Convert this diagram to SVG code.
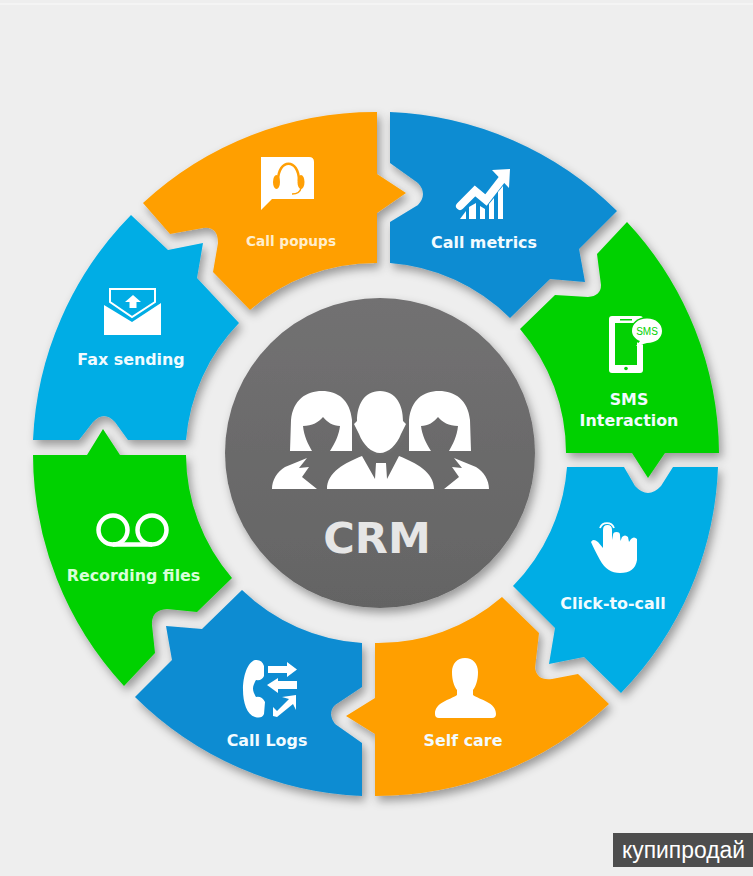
<svg xmlns="http://www.w3.org/2000/svg" width="753" height="876" viewBox="0 0 753 876">
<style>
.piece{filter:url(#sh)}
.orange{fill:#ff9f05}.blue{fill:#0a8cd2}.green{fill:#04d104}.sky{fill:#06ade5}
.w{fill:#fff}
.lab{font-family:"DejaVu Sans",Verdana,sans-serif;font-weight:700;font-size:15.900px;text-anchor:middle;fill:#f2fbff}
</style>
<defs>
<filter id="sh" x="-20%" y="-20%" width="140%" height="140%"><feDropShadow dx="3" dy="5" stdDeviation="5" flood-color="#000" flood-opacity=".36"/></filter>
<linearGradient id="hub" x1="0" y1="0" x2="0" y2="1"><stop offset="0" stop-color="#727172"/><stop offset="1" stop-color="#646464"/></linearGradient>
</defs>
<rect width="753" height="876" fill="#eeeeee"/>
<rect y="3" width="753" height="2" fill="#f4f4f4"/>
<g id="call-popups">
<path class="piece orange" d="M377,112 L377,174 L406,193 L377,213 L377,263 A190,190 0 0 0 250,310 L213,272 L218,243 Q218,226 203,228 L170,234 L143,203 A342,342 0 0 1 377,112Z"/>
<path class="w" d="M261,157 H309 Q314,157 314,162 V199 H272 L261,210Z"/>
<path d="M278,181 C278,158 299,158 299,181" fill="none" stroke="#ff9f05" stroke-width="2.500"/>
<ellipse cx="276.500" cy="182" rx="3.500" ry="7" class="orange"/><ellipse cx="301" cy="182" rx="3.500" ry="7" class="orange"/>
<path d="M301,188 Q300,194 292,194" fill="none" stroke="#ff9f05" stroke-width="1.500"/>
<text class="lab" x="291" y="246" style="font-size:13.700px;fill:#ffeecd">Call popups</text>
</g>
<g id="call-metrics">
<path class="piece blue" d="M390,112 A342,342 0 0 1 617,211 L579,249 L585,282 L550,279 L510,318 A190,190 0 0 0 390,263 L390,222 L418,205 Q428,194 418,183 L390,163Z"/>
<path d="M460,206 L475,191 L486,200 L503,178" fill="none" stroke="#fff" stroke-width="8" stroke-linecap="round"/>
<path class="w" d="M492,170 L510,169 L509,188Z M460,219 L466,211 V219Z M469,219 V207 L476,203 V219Z M480,219 V206 L485,209 V219Z M489,219 V204 L494,198 V219Z M498,219 V192 L503,186 V219Z"/>
<text class="lab" x="484" y="248">Call metrics</text>
</g>
<g id="sms-interaction">
<path class="piece green" d="M627,222 A342,342 0 0 1 719,453 L665,453 L648,478 L632,453 L566,453 A190,190 0 0 0 520,329 L555,295 L588,297 Q601,296 601,285 L597,254Z"/>
<rect class="w" x="609" y="316" width="34" height="57" rx="3"/>
<rect class="green" x="615" y="323" width="22" height="42"/>
<rect class="green" x="620" y="319" width="12" height="1.500"/>
<circle class="green" cx="626" cy="368.500" r="1.800"/>
<ellipse cx="647" cy="331" rx="16.500" ry="14" class="green"/>
<path class="w" d="M647,318.500 C656,318.500 662,324 662,331 C662,338 656,343 647,343 L636,346 L640,341 C635,339 632,335 632,331 C632,324 638,318.500 647,318.500Z"/>
<text x="647" y="335" text-anchor="middle" style="font-family:'Liberation Sans',sans-serif;font-size:10px;fill:#04d104">SMS</text>
<text class="lab" x="629" y="405">SMS</text>
<text class="lab" x="629" y="426">Interaction</text>
</g>
<g id="click-to-call">
<path class="piece sky" d="M718,467 A342,342 0 0 1 621,693 L584,657 L549,664 L555,628 L513,586 A190,190 0 0 0 567,467 L624,467 L635,486 Q648,500 661,486 L673,467Z"/>
<path class="w" d="M603,530 Q603,525 607.500,525 Q612,525 612,530 L612,540 L613,535 Q613,532 616.500,532 Q620,532 620,535 L620.500,541 L622,537 Q625,534 628,537 L629,542 L631,539 Q634,536 637,539 L637,560 Q635,573 620,573 Q607,573 600,560 Q594,549 591,542 Q593,538 598,542 L603,548Z"/>
<path d="M600,528 A7.500,7.500 0 0 1 614,528" fill="none" stroke="#fff" stroke-width="1.800"/>
<text class="lab" x="613" y="609">Click-to-call</text>
</g>
<g id="self-care">
<path class="piece orange" d="M375,643 A190,190 0 0 0 502,597 L539,633 L535,668 Q537,681 552,679 L578,674 L609,704 A342,342 0 0 1 375,796 L375,734 L346,716 L375,698Z"/>
<path class="w" d="M465,658 C473,658 478,664 478,672 C478,680 476,686 473,690 L473,695 C480,700 496,702 496,714 Q496,718 492,718 L439,718 Q435,718 435,714 C435,702 450,700 457,695 L457,690 C454,686 452,680 452,672 C452,664 457,658 465,658Z"/>
<text class="lab" x="463" y="746">Self care</text>
</g>
<g id="call-logs">
<path class="piece blue" d="M362,643 A190,190 0 0 1 242,590 L202,629 L166,626 L172,660 L135,697 A342,342 0 0 0 362,796 L362,743 L335,724 Q327,713 335,705 L362,687Z"/>
<path class="w" d="M255,660 C240,665 238,712 255,717 Q262,719 264,714 L265,702 Q262,696 256,697 C252,690 252,687 256,680 Q262,681 264,676 L264,666 Q262,659 255,660Z"/>
<path class="w" d="M268,666 H287 V662 L297,669.500 L287,677 V673 H268Z M297,681 H278 V678 L267,685 L278,693 V689 H297Z M273,707 L277,711 L289,699 L282,697 L296,695 L296,710 L293,704 L277,717 L273,716Z"/>
<text class="lab" x="267" y="746">Call Logs</text>
</g>
<g id="recording-files">
<path class="piece green" d="M33,455 L87,455 L103,429 L120,455 L186,455 A190,190 0 0 0 232,578 L197,612 L167,609 Q151,610 152,625 L155,653 L124,686 A342,342 0 0 1 33,455Z"/>
<circle cx="113" cy="530" r="14.500" fill="none" stroke="#fff" stroke-width="4.500"/>
<circle cx="152" cy="530" r="14.500" fill="none" stroke="#fff" stroke-width="4.500"/>
<path d="M113,544.500 H152" stroke="#fff" stroke-width="4.500"/>
<text class="lab" x="133.500" y="581" style="fill:#d8ffd8">Recording files</text>
</g>
<g id="fax-sending">
<path class="piece sky" d="M131,215 L168,250 L203,243 L197,278 L239,323 A190,190 0 0 0 186,440 L128,440 L115,422 Q104,410 93,422 L79,440 L33,440 A342,342 0 0 1 131,215Z"/>
<path class="w" d="M104,305 L132,322 L161,303 V335 H104Z"/>
<path d="M110,289 H155 V302 L132,317 L110,302Z" fill="none" stroke="#fff" stroke-width="2"/>
<path class="w" d="M133,295 L141,302 H136.500 V308 H129.500 V302 H125Z"/>
<text class="lab" x="131" y="365">Fax sending</text>
</g>
<g id="crm-hub">
<circle cx="380" cy="453" r="155" fill="url(#hub)" class="piece"/>
<g id="woman-left">
<path id="wm" class="w" d="M290,451 L291,420 C293,400 306,391 322,391 C338,391 350,400 352,420 L352,451 H330 C335,443 339,435 340,426 C333,426 327,422 323,417 C319,422 312,426 303,426 C304,436 308,444 312,451Z M272,489 C272,480 277,472 285,467 L307,458 L299,468 L309,467 L302,477 L317,489Z"/>
</g>
<g transform="translate(761,0) scale(-1,1)"><use href="#wm"/></g>
<g id="man">
<ellipse cx="380" cy="422" rx="27" ry="33" fill="#6d6d6d"/>
<path class="w" d="M380,391 C396,391 403,405 403,421 L406,424 L401,434 C397,445 388,453 380,453 C372,453 363,445 359,434 L354,424 L357,421 C357,405 364,391 380,391Z"/>
<path class="w" d="M327,489 C327,472 345,463 362,456 L375,479 L376,463 H386 L387,479 L399,456 C416,463 434,472 434,489Z"/>
</g>
<text x="377" y="553" text-anchor="middle" style="font-family:'DejaVu Sans',Verdana,sans-serif;font-weight:700;font-size:43px;fill:#e6e6e6">CRM</text>
</g>
<g id="watermark">
<rect x="613" y="833" width="140" height="34" fill="#4d4d4d"/>
<text x="622" y="858" textLength="123" lengthAdjust="spacingAndGlyphs" style="font-family:'Liberation Sans',Arial,sans-serif;font-size:23px;fill:#fff">купипродай</text>
</g>
</svg>
